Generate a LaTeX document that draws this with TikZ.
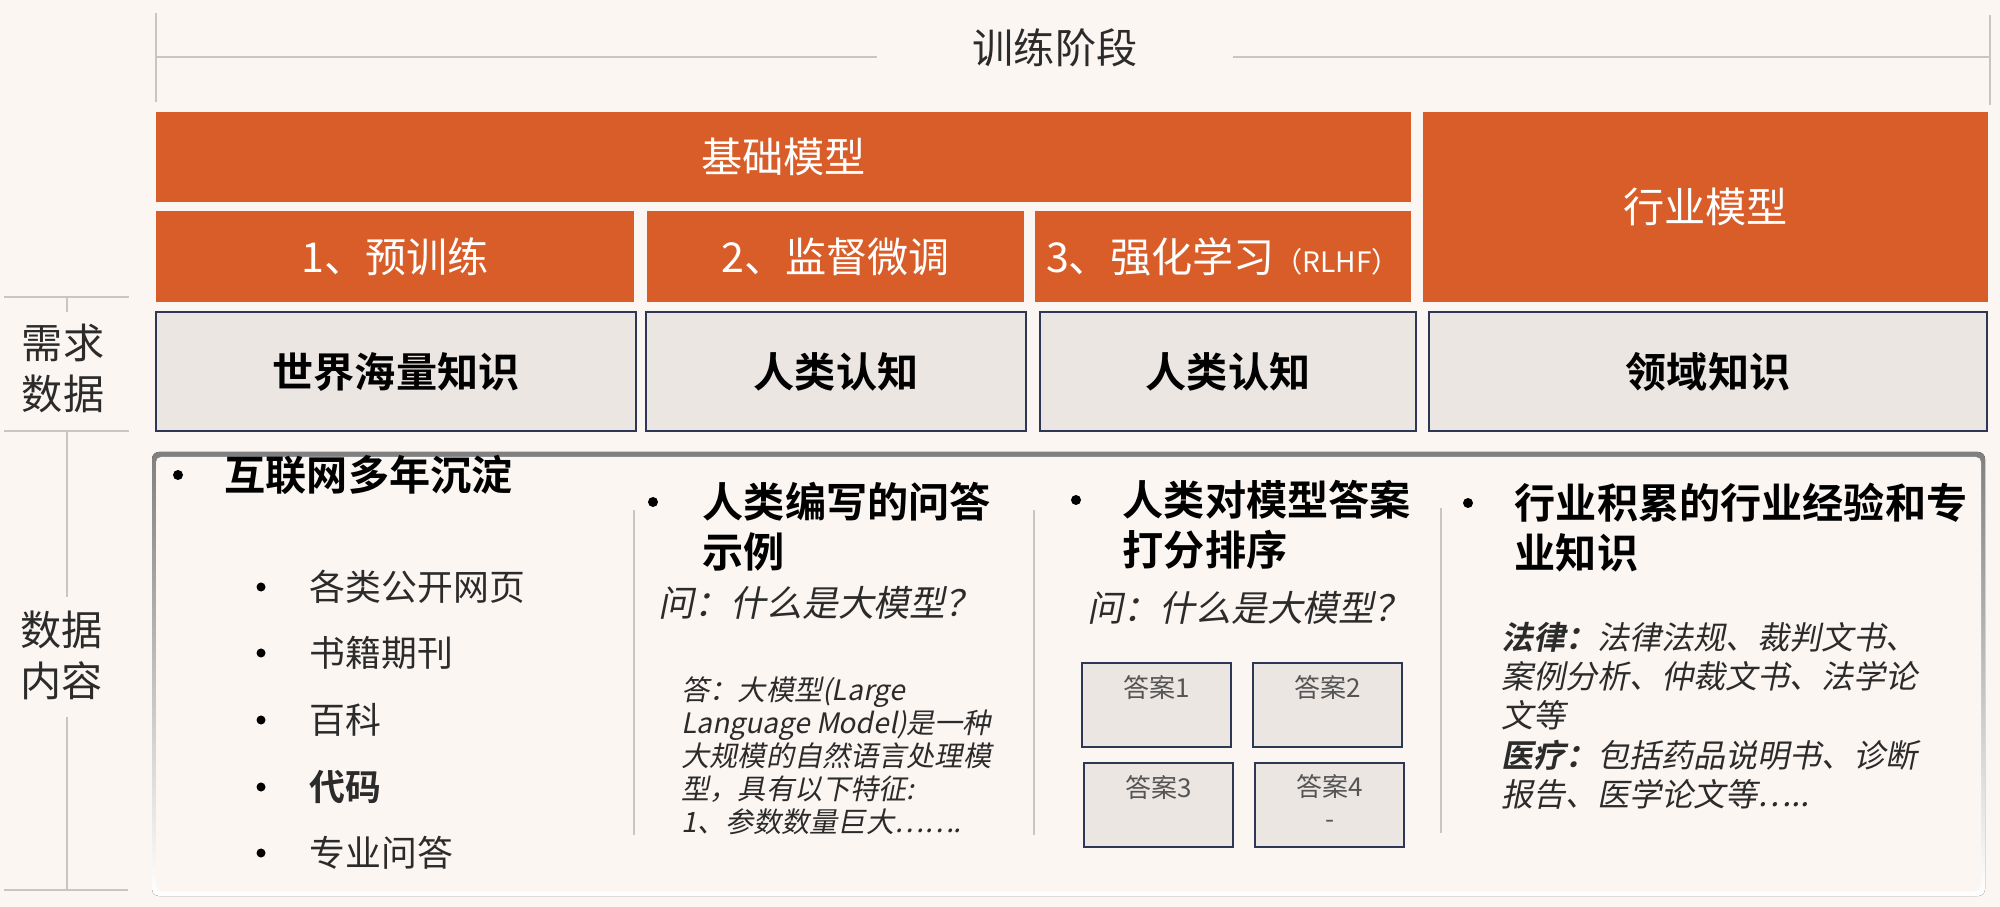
\documentclass[tikz,border=0pt]{standalone}
\usepackage{fontspec}
\setmainfont{Noto Sans CJK SC}[BoldFont={Noto Sans CJK SC Bold}, ItalicFont={Noto Sans CJK SC}, ItalicFeatures={FakeSlant=0.2}, BoldItalicFont={Noto Sans CJK SC Bold}, BoldItalicFeatures={FakeSlant=0.2}]
\usetikzlibrary{positioning}
\definecolor{bg}{HTML}{FCF6F3}
\definecolor{rust}{HTML}{D95D29}
\definecolor{boxgrey}{HTML}{ECE6E3}
\definecolor{navy}{HTML}{2E3856}
\definecolor{rulegrey}{HTML}{C9C5C3}
\definecolor{shade}{HTML}{EBE6E3}
\definecolor{ink}{HTML}{2B2B2B}

\begin{document}
\begin{tikzpicture}[x=0.01cm,y=-0.01cm,
	rule/.style={draw=rulegrey, line width=0.55pt},
	divider/.style={draw=rulegrey, line width=0.75pt},
	stagebox/.style={fill=rust, text=white, inner sep=0pt, font=\fontsize{11.7}{14}\selectfont},
	know/.style={fill=boxgrey, draw=navy, line width=0.6pt, inner sep=0pt, text=black, font=\bfseries\fontsize{11.7}{14}\selectfont},
	side/.style={text=ink, inner sep=0pt, align=center, font=\fontsize{11.7}{14.5}\selectfont},
	head/.style={text=black, inner sep=0pt, align=left, font=\bfseries\fontsize{11.7}{14.2}\selectfont},
	item/.style={text=ink, inner sep=0pt, anchor=west, font=\fontsize{10.2}{12}\selectfont},
	ask/.style={text=ink, inner sep=0pt, anchor=west, font=\itshape\fontsize{10.2}{12}\selectfont},
	bul/.style={circle, fill=black, inner sep=0pt, minimum size=0.1cm},
	subbul/.style={circle, fill=black, inner sep=0pt, minimum size=0.09cm},
	ansbox/.style={fill=boxgrey, draw=navy, line width=0.6pt, inner sep=0pt, minimum width=1.49cm, minimum height=0.84cm},
	anstext/.style={text=ink!80, inner sep=0pt, align=center, font=\fontsize{7.4}{9}\selectfont}]
	\fill[bg] (0,0) rectangle (2000,907);
	\useasboundingbox (0,0) rectangle (2000,907);

	\node[text=ink, inner sep=0pt, font=\fontsize{11.7}{14}\selectfont] (stage) at (1055,48) {训练阶段};
	\draw[rule] (156,13) -- (156,102);
	\draw[rule] (156,57) -- (877,57);
	\draw[rule] (1233,57) -- (1990,57);
	\draw[rule] (1990,15) -- (1990,105);

	\node[stagebox, minimum width=12.55cm, minimum height=0.90cm] (base) at (783.5,157) {基础模型};
	\node[stagebox, minimum width=5.65cm, minimum height=1.90cm] (trade) at (1705.5,207) {行业模型};
	\node[stagebox, minimum width=4.78cm, minimum height=0.91cm] (pre) at (395,256.5) {1、预训练};
	\node[stagebox, minimum width=3.77cm, minimum height=0.91cm] (sft) at (835.5,256.5) {2、监督微调};
	\node[stagebox, minimum width=3.76cm, minimum height=0.91cm] (rl) at (1223,256.5) {3、强化学习{\fontsize{8}{9}\selectfont （RLHF）}};

	\node[know, minimum width=4.80cm, minimum height=1.19cm] (world) at (396,371.5) {世界海量知识};
	\node[know, minimum width=3.80cm, minimum height=1.19cm] (human1) at (836,371.5) {人类认知};
	\node[know, minimum width=3.76cm, minimum height=1.19cm] (human2) at (1228,371.5) {人类认知};
	\node[know, minimum width=5.58cm, minimum height=1.19cm] (domain) at (1708,371.5) {领域知识};

	\node[side] (need) at (63,368) {需求\\数据};
	\node[side] (content) at (62,655) {数据\\内容};
	\draw[rule] (4,297) -- (129,297);
	\draw[rule] (67,297) -- (67,312);
	\draw[rule] (4,431) -- (129,431);
	\draw[rule] (67,431) -- (67,597);
	\draw[rule] (67,717) -- (67,890);
	\draw[rule] (4,890) -- (128,890);

	\fill[shade, rounded corners=0.07cm] (152,452) rectangle (1985,896);
	\fill[bg, rounded corners=0.05cm] (156,457) rectangle (1981,891);
	\draw[divider] (634,510) -- (634,835);
	\draw[divider] (1034,510) -- (1034,835);
	\draw[divider] (1441,508) -- (1441,833);

	\node[bul] (d1) at (178,475) {};
	\node[head, anchor=west] (net) at (224,475) {互联网多年沉淀};
	\node[subbul] (s1) at (261,587) {};
	\node[item] (web) at (309,587) {各类公开网页};
	\node[subbul] (s2) at (261,653) {};
	\node[item] (book) at (309,653) {书籍期刊};
	\node[subbul] (s3) at (261,720) {};
	\node[item] (wiki) at (309,720) {百科};
	\node[subbul] (s4) at (261,787) {};
	\node[item, font=\bfseries\fontsize{10.2}{12}\selectfont] (code) at (309,787) {代码};
	\node[subbul] (s5) at (261,853) {};
	\node[item] (pro) at (309,853) {专业问答};

	\node[bul] (d2) at (653,502) {};
	\node[head, anchor=north west] (write) at (702,481.5) {人类编写的问答\\示例};
	\node[ask] (ask1) at (658,603) {问：什么是大模型？};
	\node[text=ink, inner sep=0pt, anchor=north west, align=left, font=\itshape\fontsize{8}{9.4}\selectfont] (reply) at (681,676) {答：大模型(Large\\Language Model)是一种\\大规模的自然语言处理模\\型，具有以下特征:\\1、参数数量巨大…….};

	\node[bul] (d3) at (1076,500) {};
	\node[head, anchor=north west] (rank) at (1122,479.5) {人类对模型答案\\打分排序};
	\node[ask] (ask2) at (1087,608) {问：什么是大模型？};
	\node[ansbox] (ans1) at (1156.5,705) {};
	\node[ansbox] (ans2) at (1327.5,705) {};
	\node[ansbox] (ans3) at (1158.5,805) {};
	\node[ansbox] (ans4) at (1329.5,805) {};
	\node[anstext, below=0.13cm of ans1.north] (t1) {答案1};
	\node[anstext, below=0.13cm of ans2.north] (t2) {答案2};
	\node[anstext, below=0.13cm of ans3.north] (t3) {答案3};
	\node[anstext, below=0.12cm of ans4.north] (t4) {答案4\\-};

	\node[bul] (d4) at (1468,503) {};
	\node[head, anchor=north west] (exp) at (1514,482.5) {行业积累的行业经验和专\\业知识};
	\node[text=ink, inner sep=0pt, anchor=north west, align=left, font=\itshape\fontsize{9.1}{11.1}\selectfont] (field) at (1501,622) {\textbf{法律：}法律法规、裁判文书、\\案例分析、仲裁文书、法学论\\文等\\\textbf{医疗：}包括药品说明书、诊断\\报告、医学论文等…..};
\end{tikzpicture}
\end{document}
